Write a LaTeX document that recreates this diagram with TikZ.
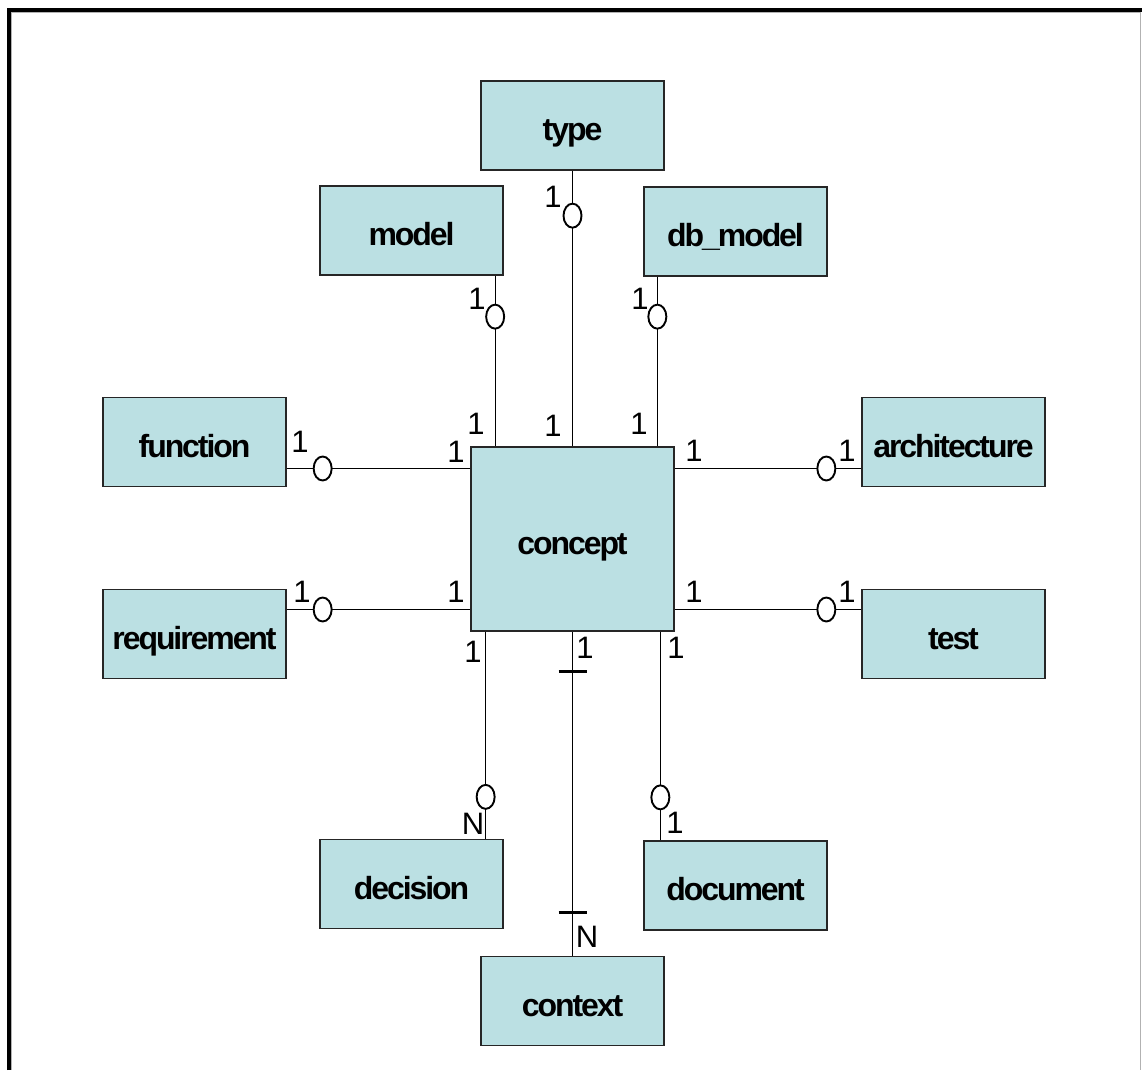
\documentclass[tikz,border=0pt]{standalone}
\usepackage{fontspec}
\setmainfont{Liberation Sans}
\usetikzlibrary{calc}
\definecolor{boxfill}{RGB}{187,224,227}
\newfontfamily\entityfont[LetterSpace=-6.5]{Liberation Sans}
\begin{document}
\begin{tikzpicture}[x=1pt,y=-1pt,
  entity/.style={draw=black!85, line width=1.3pt, fill=boxfill,
    minimum width=183pt, minimum height=89pt, inner sep=0pt,
    text height=30pt, text depth=0pt,
    font=\entityfont\fontsize{32}{34}\selectfont\bfseries},
  link/.style={line width=1.1pt},
  opt/.style={draw, line width=1.9pt, fill=white},
  card/.style={inner sep=0pt, font=\fontsize{31}{33}\selectfont},
  bar/.style={line width=3pt}]
\useasboundingbox (0,0) rectangle (1142,1070);

% frame
\draw[gray!60, line width=1pt] (11,1070) -- (11,13) -- (1140.5,13) -- (1140.5,1070);
\draw[line width=4pt] (8.5,1070) -- (8.5,10) -- (1142,10);

% entities
\node[entity] (type)         at (572.5,125.5) {type};
\node[entity] (model)        at (411.5,230.5) {model};
\node[entity] (dbmodel)      at (735.5,231.5) {db\_model};
\node[entity] (function)     at (194.5,442)   {function};
\node[entity] (architecture) at (953.5,442)   {architecture};
\node[entity, minimum width=203pt, minimum height=184pt] (concept) at (572.5,539) {concept};
\node[entity] (requirement)  at (194.5,634)   {requirement};
\node[entity] (test)         at (953.5,634)   {test};
\node[entity] (decision)     at (411.5,884)   {decision};
\node[entity] (document)     at (735.5,885.5) {document};
\node[entity] (context)      at (572.5,1001)  {context};

% attachment points
\coordinate (mA)  at ($(model.south east)+(-8.5,0)$);
\coordinate (dA)  at ($(dbmodel.south west)+(14,0)$);
\coordinate (fA)  at ($(function.east)+(0,26.5)$);
\coordinate (aA)  at ($(architecture.west)+(0,26.5)$);
\coordinate (rA)  at ($(requirement.east)+(0,-24.5)$);
\coordinate (tA)  at ($(test.west)+(0,-24.5)$);
\coordinate (deA) at ($(decision.north east)+(-18,0)$);
\coordinate (doA) at ($(document.north west)+(17,0)$);

% relationships
\draw[link] (type.south) -- (concept.north);
\draw[link] (mA) -- (mA |- concept.north);
\draw[link] (dA) -- (dA |- concept.north);
\draw[link] (fA) -- (fA -| concept.west);
\draw[link] (aA) -- (aA -| concept.east);
\draw[link] (rA) -- (rA -| concept.west);
\draw[link] (tA) -- (tA -| concept.east);
\draw[link] (deA) -- (deA |- concept.south);
\draw[link] (doA) -- (doA |- concept.south);
\draw[link] (context.north) -- (concept.south);

% optional markers
\draw[opt] ($(type.south)+(0,45)$) ellipse (9 and 12);
\draw[opt] ($(mA)+(0,41)$) ellipse (9 and 12);
\draw[opt] ($(dA)+(0,40)$) ellipse (9 and 12);
\draw[opt] ($(fA)+(36,0)$) ellipse (9 and 12);
\draw[opt] ($(aA)+(-35,0)$) ellipse (9 and 12);
\draw[opt] ($(rA)+(36,0)$) ellipse (9 and 12);
\draw[opt] ($(tA)+(-35,0)$) ellipse (9 and 12);
\draw[opt] ($(deA)+(0,-42)$) ellipse (9 and 12);
\draw[opt] ($(doA)+(0,-43)$) ellipse (9 and 12);

% mandatory bars on the context link
\draw[bar] ($(concept.south)+(-14,40)$) -- ++(28,0);
\draw[bar] ($(context.north)+(-14,-43)$) -- ++(28,0);

% cardinalities
\node[card] (k1)  at (553,197) {1};
\node[card] (k2)  at (477,299) {1};
\node[card] (k3)  at (640,299) {1};
\node[card] (k4)  at (476,424) {1};
\node[card] (k5)  at (553,426) {1};
\node[card] (k6)  at (639,424) {1};
\node[card] (k7)  at (300,442) {1};
\node[card] (k8)  at (456,452) {1};
\node[card] (k9)  at (694,451) {1};
\node[card] (k10) at (847,451) {1};
\node[card] (k11) at (302,592) {1};
\node[card] (k12) at (456,592) {1};
\node[card] (k13) at (694,592) {1};
\node[card] (k14) at (847,592) {1};
\node[card] (k15) at (473,652) {1};
\node[card] (k16) at (585,648) {1};
\node[card] (k17) at (676,648) {1};
\node[card] (k18) at (473,824) {N};
\node[card] (k19) at (675,823) {1};
\node[card] (k20) at (587,937) {N};
\end{tikzpicture}
\end{document}
